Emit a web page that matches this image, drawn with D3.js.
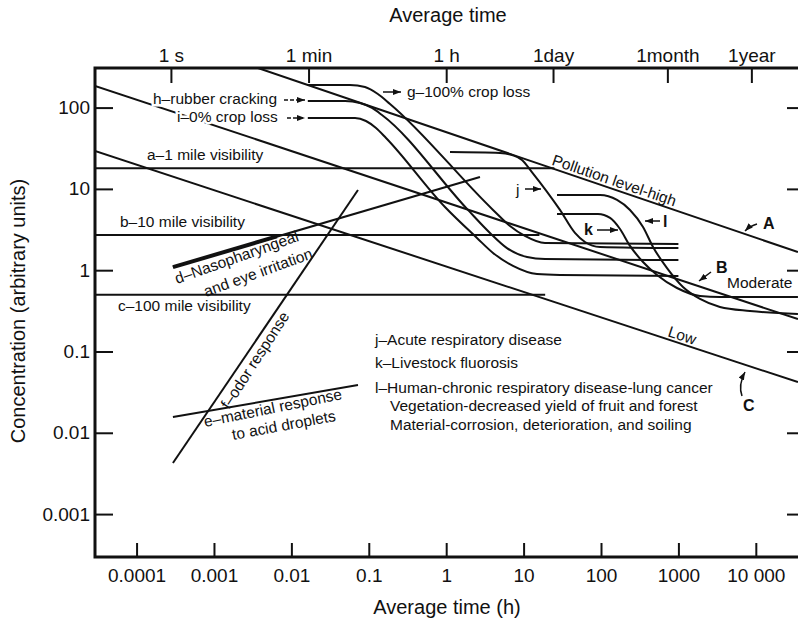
<!DOCTYPE html>
<html><head><meta charset="utf-8">
<script src="https://cdn.jsdelivr.net/npm/d3@7"></script>
<style>
body{margin:0;background:#fff;}
text{font-family:"Liberation Sans",Arial,Helvetica,sans-serif;fill:#111;}
</style></head><body>
<svg id="c" width="798" height="623"></svg>
<script>
// ---------- data ----------
const xTickValues = [0.0001,0.001,0.01,0.1,1,10,100,1000,10000];
const xTickLabels = ["0.0001","0.001","0.01","0.1","1","10","100","1000","10 000"];
const topTickValues = [1/3600, 1/60, 1, 24, 720, 8760];
const topTickLabels = ["1 s","1 min","1 h","1day","1month","1year"];
const yTickValues = [100,10,1,0.1,0.01,0.001];
const yTickLabels = ["100","10","1","0.1","0.01","0.001"];

// pollution levels (A high, B moderate, C low)
const levelHigh = [[0.0037,307],[35000,1.67]];
const levelModerate = [[2.9e-5,185],[35000,0.25]];
const levelLow = [[2.9e-5,29.2],[35000,0.042]];
// visibility
const vis1mile = [[2.9e-5,18],[25,18]];
const vis10mile = [[2.9e-5,2.7],[16,2.7]];
const vis100mile = [[2.9e-5,0.5],[19,0.5]];
// d, e, f
const nasoBold = [[0.000295,1.09],[0.0065,2.6]];
const naso = [[0.000295,1.09],[2.73,14.0]];
const material = [[0.000295,0.0156],[0.0725,0.0387]];
const odor = [[0.000295,0.00425],[0.0725,9.7]];
// g, h, i, j, k, l
const cropLoss100 = [[0.0163,190],[0.0571,190],[0.0893,179],[0.131,147],[0.188,111],[4.03,5.51],[6.67,3.50],[10.4,2.64],[18.9,2.16],[1000,2.10]];
const rubberCracking = [[0.0163,120.5],[0.0493,120.5],[0.0769,114],[0.110,98.9],[0.148,81.1],[1.91,5.51],[3.68,2.87],[6.10,1.87],[11.1,1.45],[18.9,1.37],[1000,1.33]];
const cropLoss0 = [[0.0163,74.5],[0.0664,74.5],[0.092,68.4],[0.124,56.1],[0.167,42.3],[0.964,5.99],[2.50,2.49],[4.03,1.63],[7.29,1.13],[14.9,0.897],[29.5,0.873],[1000,0.849]];
const acuteResp = [[1.12,28.4],[4.96,27.7],[7.08,26.1],[9.53,22.7],[12.8,16.1],[29.5,5.51],[46.1,2.87],[62.1,2.22],[97.1,1.93],[1000,1.87]];
const livestock = [[27.0,4.91],[91.4,4.91],[131,4.39],[176,3.21],[237,1.99],[349,1.26],[529,0.873],[959,0.604],[1901,0.482],[3443,0.468],[35000,0.468]];
const chronic = [[27.0,8.41],[97.1,8.41],[161,7.31],[237,5.51],[349,3.40],[470,1.93],[713,1.06],[1146,0.621],[1901,0.443],[3443,0.353],[8414,0.315],[35000,0.290]];

const legendLines = ["j–Acute respiratory disease","k–Livestock fluorosis","l–Human-chronic respiratory disease-lung cancer","Vegetation-decreased yield of fruit and forest","Material-corrosion, deterioration, and soiling"];

// ---------- layout ----------
const L=95, R=798, T=68, B=557;
const svg = d3.select("#c");
const x = d3.scaleLog().domain([2.904e-5, 35075]).range([L, R]);
const y = d3.scaleLog().domain([2.965e-4, 306.9]).range([B, T]);

const defs = svg.append("defs");
defs.append("clipPath").attr("id","clip").append("rect")
  .attr("x",L).attr("y",T).attr("width",R-L).attr("height",B-T);
defs.append("marker").attr("id","ah").attr("viewBox","0 0 8 6")
  .attr("refX",8).attr("refY",3).attr("markerWidth",8).attr("markerHeight",6)
  .attr("markerUnits","userSpaceOnUse").attr("orient","auto")
  .append("path").attr("d","M0,0L8,3L0,6Z").attr("fill","#111");

const plot = svg.append("g").attr("clip-path","url(#clip)");
const straight = d3.line().x(d=>x(d[0])).y(d=>y(d[1]));
const smooth = d3.line().x(d=>x(d[0])).y(d=>y(d[1])).curve(d3.curveMonotoneX);

const straightSets = [levelHigh, levelModerate, levelLow, vis1mile, vis10mile, vis100mile, naso, material, odor];
straightSets.forEach(s=>plot.append("path").attr("d",straight(s)).attr("fill","none").attr("stroke","#111").attr("stroke-width",2));
plot.append("path").attr("d",straight(nasoBold)).attr("fill","none").attr("stroke","#111").attr("stroke-width",4);
[cropLoss100, rubberCracking, cropLoss0, acuteResp, livestock, chronic].forEach(s=>
  plot.append("path").attr("d",smooth(s)).attr("fill","none").attr("stroke","#111").attr("stroke-width",2));

// ---------- axes ----------
const fs = "19px";
const gB = svg.append("g").attr("transform",`translate(0,${B})`)
  .call(d3.axisBottom(x).tickValues(xTickValues).tickFormat((d,i)=>xTickLabels[i]).tickSizeInner(-14).tickSizeOuter(0).tickPadding(12));
const gT = svg.append("g").attr("transform",`translate(0,${T})`)
  .call(d3.axisTop(x).tickValues(topTickValues).tickFormat((d,i)=>topTickLabels[i]).tickSizeInner(-15).tickSizeOuter(0).tickPadding(6));
const gL = svg.append("g").attr("transform",`translate(${L},0)`)
  .call(d3.axisLeft(y).tickValues(yTickValues).tickFormat((d,i)=>yTickLabels[i]).tickSizeInner(-18).tickSizeOuter(0).tickPadding(5));
const gR = svg.append("g").attr("transform",`translate(${R},0)`)
  .call(d3.axisRight(y).tickValues(yTickValues).tickFormat("").tickSizeInner(-11).tickSizeOuter(0));
[gB,gT,gL,gR].forEach(g=>{
  g.select(".domain").remove();
  g.selectAll(".tick line").attr("stroke","#111").attr("stroke-width",2);
  g.selectAll(".tick text").attr("font-size",fs).attr("font-family","Liberation Sans, Arial, sans-serif").attr("fill","#111");
});
// frame
svg.append("path").attr("d",`M${R},${T}H${L}V${B}H${R}`).attr("fill","none").attr("stroke","#111").attr("stroke-width",3);

// titles
svg.append("text").attr("x",448).attr("y",22).attr("text-anchor","middle").attr("font-size","20px").text("Average time");
svg.append("text").attr("x",447).attr("y",614).attr("text-anchor","middle").attr("font-size","20px").text("Average time (h)");
svg.append("text").attr("transform","translate(25,311) rotate(-90)").attr("text-anchor","middle").attr("font-size","20px").text("Concentration (arbitrary units)");

// ---------- annotations ----------
const af = "15.5px";
function t(xp,yp,s,opt={}){
  const e = svg.append("text").attr("x",xp).attr("y",yp).attr("font-size",opt.size||af).text(s);
  if(opt.bold) e.attr("font-weight","bold");
  if(opt.rot!==undefined) e.attr("transform",`rotate(${opt.rot},${xp},${yp})`);
  if(opt.halo) e.attr("stroke","#fff").attr("stroke-width",5).attr("paint-order","stroke");
  return e;
}
function arrow(d,dash){
  const p = svg.append("path").attr("d",d).attr("fill","none").attr("stroke","#111").attr("stroke-width",1.5).attr("marker-end","url(#ah)");
  if(dash) p.attr("stroke-dasharray","4,2");
}
t(147,160,"a–1 mile visibility");
t(120,227,"b–10 mile visibility");
t(118,311,"c–100 mile visibility");
t(153,104,"h–rubber cracking",{halo:true});
arrow("M284,100H305",true);
t(177,122,"i–0% crop loss",{halo:true});
arrow("M287,118H305",true);
t(407,97,"g–100% crop loss");
arrow("M383,92H401");
t(516,195,"j");
arrow("M525,189H541");
t(584,235,"k",{bold:true,size:"16px"});
arrow("M597,230H618");
t(663,227,"l",{bold:true,size:"16px"});
arrow("M660,221H645");

legendLines.forEach((s,i)=>{
  const yy=[345,368,393,411,430][i];
  t(i<3?375:390, yy, s);
});

t(727,288,"Moderate");
t(763,229,"A",{bold:true,size:"16px"});
arrow("M757,224Q750,226 745,231");
t(716,273,"B",{bold:true,size:"16px"});
arrow("M711,272L699,281");
t(743,411,"C",{bold:true,size:"16px"});
arrow("M742,396Q738,385 745,372");

t(551,164.5,"Pollution level-high",{rot:18.8});
t(667,336,"Low",{rot:18.2});
t(177,284,"d–Nasopharyngeal",{rot:-19.5});
t(206,297,"and eye irritation",{rot:-20});
t(229,410,"f–odor response",{rot:-57});
t(205,427,"e–material response",{rot:-11.5});
t(233,440,"to acid droplets",{rot:-10.5});
</script>
</body></html>
